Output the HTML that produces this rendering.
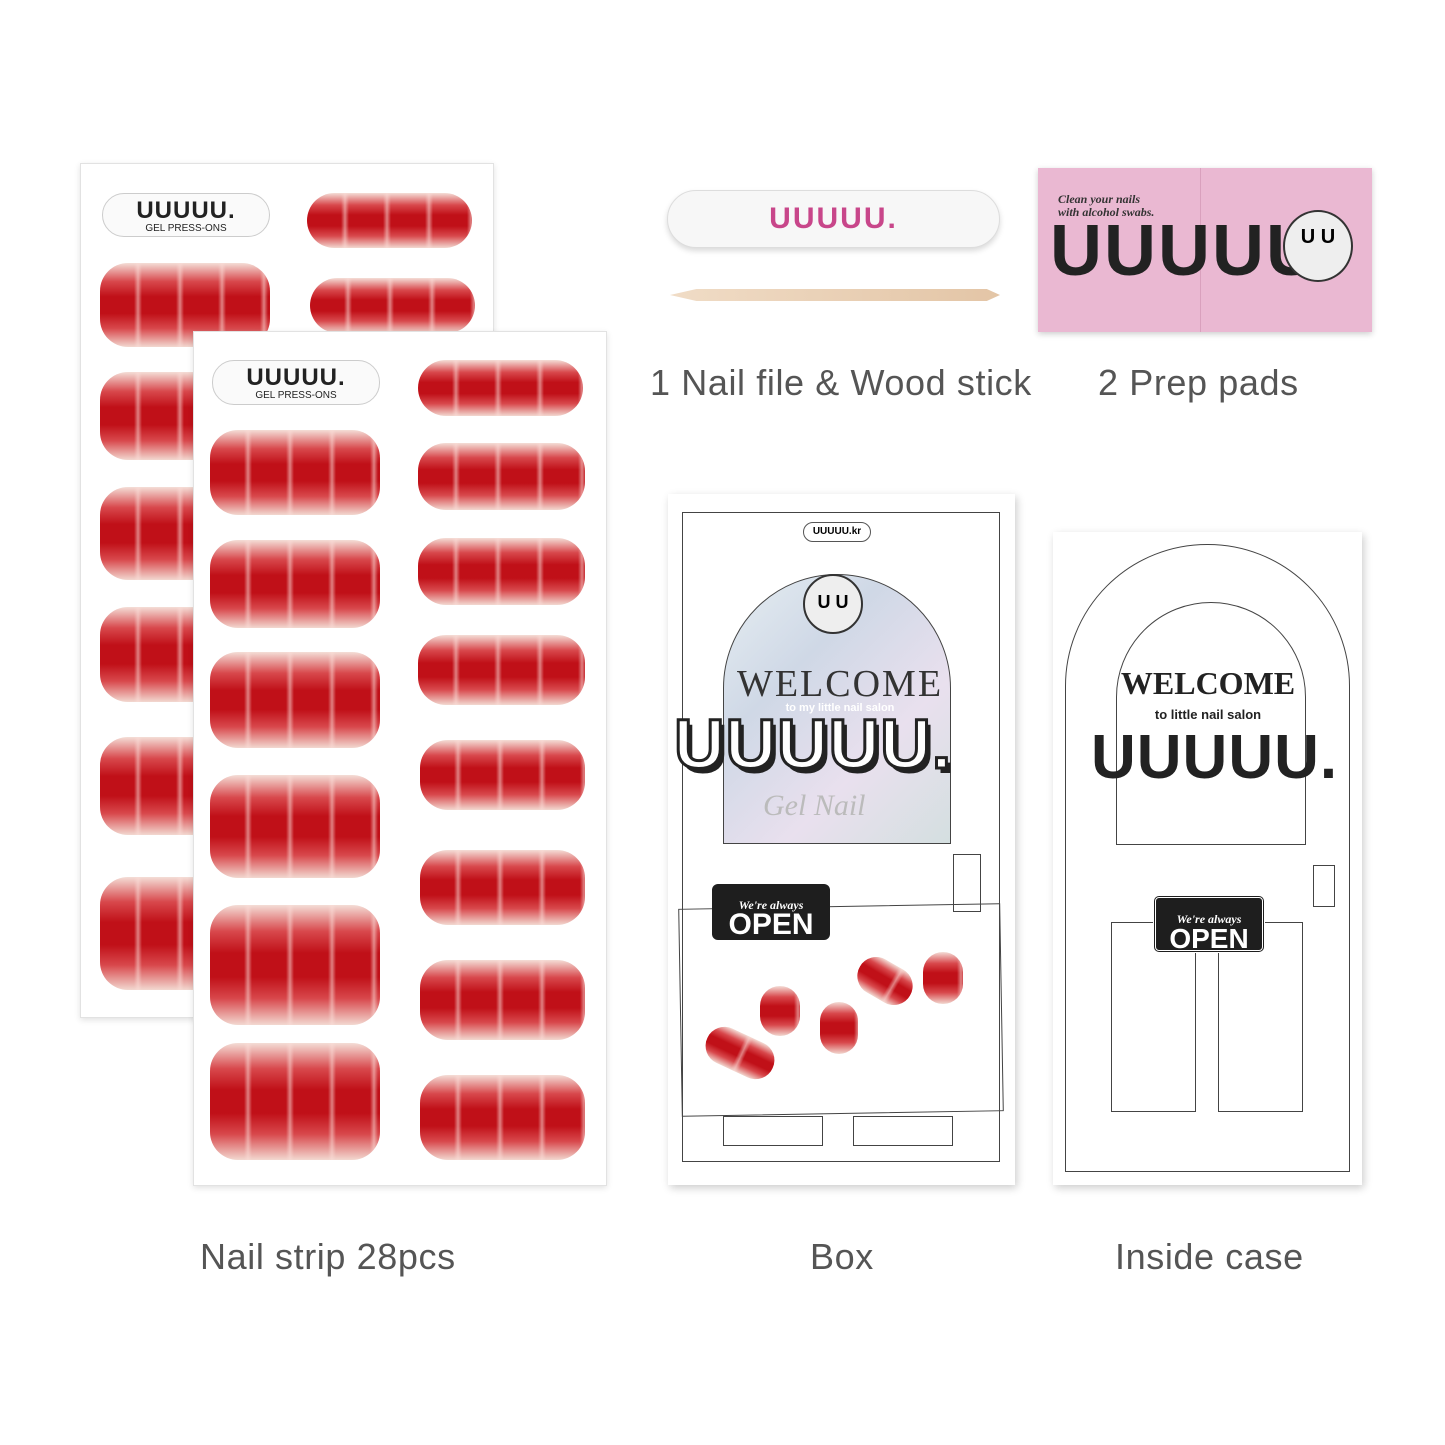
<!DOCTYPE html>
<html><head><meta charset="utf-8">
<style>
body{margin:0;width:1445px;height:1445px;background:#fff;position:relative;overflow:hidden;font-family:"Liberation Sans",sans-serif}
div{box-sizing:border-box}
.a{position:absolute}
.sheet{position:absolute;background:#fff;border:1px solid #e2e2e2;box-shadow:0 2px 6px rgba(0,0,0,.12)}
.n{position:absolute;border-radius:28px;
background:
repeating-linear-gradient(90deg,rgba(255,235,230,0) 0,rgba(255,235,230,0) 34px,rgba(250,220,215,.55) 38px,rgba(255,235,230,0) 42px),
linear-gradient(180deg,#f4ddd6 0%,#d8484c 22%,#c01018 40%,#c01018 60%,#d8484c 78%,#f2d8d0 100%);}
.logo{position:absolute;border:1px solid #ccc;border-radius:22px;background:#fafafa;text-align:center;font-weight:900;font-size:24px;letter-spacing:1px;color:#222;line-height:26px;padding-top:4px}
.logo small{display:block;font-size:10px;font-weight:400;line-height:10px;letter-spacing:0}
.lab{position:absolute;font-size:36px;letter-spacing:0.6px;color:#555;white-space:nowrap}
.ln{position:absolute;border:1.5px solid #444}
</style></head><body>

<div class="sheet" style="left:80px;top:163px;width:414px;height:855px"></div>
<div class="logo" style="left:102px;top:193px;width:168px;height:44px">UUUUU.<small>GEL PRESS-ONS</small></div>
<div class="n" style="left:307px;top:193px;width:165px;height:55px"></div>
<div class="n" style="left:310px;top:278px;width:165px;height:55px"></div>
<div class="n" style="left:100px;top:263px;width:170px;height:84px"></div>
<div class="n" style="left:100px;top:372px;width:170px;height:88px"></div>
<div class="n" style="left:100px;top:487px;width:170px;height:93px"></div>
<div class="n" style="left:100px;top:607px;width:170px;height:95px"></div>
<div class="n" style="left:100px;top:737px;width:170px;height:98px"></div>
<div class="n" style="left:100px;top:877px;width:170px;height:113px"></div>

<div class="sheet" style="left:193px;top:331px;width:414px;height:855px"></div>
<div class="logo" style="left:212px;top:360px;width:168px;height:45px">UUUUU.<small>GEL PRESS-ONS</small></div>
<div class="n" style="left:418px;top:360px;width:165px;height:56px"></div>
<div class="n" style="left:418px;top:443px;width:167px;height:67px"></div>
<div class="n" style="left:418px;top:538px;width:167px;height:67px"></div>
<div class="n" style="left:418px;top:635px;width:167px;height:70px"></div>
<div class="n" style="left:420px;top:740px;width:165px;height:70px"></div>
<div class="n" style="left:420px;top:850px;width:165px;height:75px"></div>
<div class="n" style="left:420px;top:960px;width:165px;height:80px"></div>
<div class="n" style="left:420px;top:1075px;width:165px;height:85px"></div>
<div class="n" style="left:210px;top:430px;width:170px;height:85px"></div>
<div class="n" style="left:210px;top:540px;width:170px;height:88px"></div>
<div class="n" style="left:210px;top:652px;width:170px;height:96px"></div>
<div class="n" style="left:210px;top:775px;width:170px;height:103px"></div>
<div class="n" style="left:210px;top:905px;width:170px;height:120px"></div>
<div class="n" style="left:210px;top:1043px;width:170px;height:117px"></div>

<div class="a" style="left:667px;top:190px;width:333px;height:58px;border-radius:29px;background:#f7f7f7;border:1px solid #ddd;box-shadow:0 3px 6px rgba(0,0,0,.15);text-align:center;font-weight:900;font-size:30px;color:#c8468a;line-height:56px;letter-spacing:2px">UUUUU.</div>
<div class="a" style="left:670px;top:289px;width:330px;height:12px;border-radius:6px;background:linear-gradient(90deg,#f0dcc6,#e3c5a6);clip-path:polygon(0 50%,8% 0,96% 0,100% 50%,96% 100%,8% 100%)"></div>

<div class="a" style="left:1038px;top:168px;width:334px;height:164px;background:#eab8d2;box-shadow:0 2px 6px rgba(0,0,0,.2)">
 <div class="a" style="left:162px;top:0;width:1px;height:164px;background:#d9a0bd"></div>
 <div class="a" style="left:20px;top:25px;font-size:12px;font-weight:700;font-style:italic;color:#333;line-height:13px;font-family:'Liberation Serif',serif">Clean your nails<br>with alcohol swabs.</div>
 <div class="a" style="left:12px;top:42px;font-size:72px;font-weight:900;color:#222;letter-spacing:2px">UUUUU</div>
 <div class="a" style="left:245px;top:42px;width:70px;height:72px;border-radius:50%;background:#eee;border:2px solid #333;font-weight:900;font-size:20px;text-align:center;line-height:50px">U U</div>
</div>
<div class="lab" style="left:650px;top:362px">1 Nail file &amp; Wood stick</div>
<div class="lab" style="left:1098px;top:362px">2 Prep pads</div>

<div class="a" style="left:668px;top:494px;width:347px;height:691px;background:#fff;box-shadow:2px 3px 8px rgba(0,0,0,.2)">
 <div class="ln" style="left:14px;top:18px;width:318px;height:650px;border-width:1px"></div>
 <div class="a" style="left:135px;top:28px;width:68px;height:20px;border:1.5px solid #555;border-radius:10px;font-size:10px;text-align:center;line-height:17px;font-weight:700">UUUUU.kr</div>
 <div class="a" style="left:55px;top:80px;width:228px;height:270px;border-radius:114px 114px 0 0;background:linear-gradient(135deg,#e6eef2,#cfd8e6,#e9e0ee,#d4dfe0);border:1.5px solid #444"></div>
 <div class="a" style="left:135px;top:80px;width:60px;height:60px;border-radius:50%;background:#eee;border:2px solid #333;font-weight:900;text-align:center;line-height:52px;font-size:18px">U U</div>
 <div class="a" style="left:62px;top:168px;width:220px;text-align:center;font-family:'Liberation Serif',serif;font-size:38px;color:#333;letter-spacing:2px">WELCOME</div>
 <div class="a" style="left:62px;top:208px;width:220px;text-align:center;font-size:11px;color:#fff;font-weight:700">to my little nail salon</div>
 <div class="a" style="left:6px;top:210px;font-size:70px;font-weight:900;color:#fff;letter-spacing:1px;-webkit-text-stroke:3px #222;text-shadow:4px 5px 0 #222">UUUUU.</div>
 <div class="a" style="left:95px;top:295px;font-family:'Liberation Serif',serif;font-style:italic;font-size:30px;color:#bbb">Gel Nail</div>
 <div class="ln" style="left:285px;top:360px;width:28px;height:58px;border-width:1px"></div>
 <div class="ln" style="left:12px;top:412px;width:322px;height:208px;transform:rotate(-1deg);border-width:1.5px"></div>
 <div class="a" style="left:44px;top:390px;width:118px;height:56px;background:#1e1e1e;border-radius:6px;color:#fff;text-align:center;font-weight:900;font-size:30px;line-height:20px;padding-top:6px"><span style="font-size:12px;font-style:italic;font-family:'Liberation Serif',serif">We're always</span><br>OPEN</div>
 <div class="n" style="left:36px;top:540px;width:72px;height:38px;transform:rotate(25deg);border-radius:20px"></div>
 <div class="n" style="left:92px;top:492px;width:40px;height:50px;border-radius:20px"></div>
 <div class="n" style="left:152px;top:508px;width:38px;height:52px;border-radius:19px"></div>
 <div class="n" style="left:188px;top:468px;width:58px;height:38px;transform:rotate(30deg);border-radius:19px"></div>
 <div class="n" style="left:255px;top:458px;width:40px;height:52px;border-radius:20px"></div>
 <div class="ln" style="left:55px;top:622px;width:100px;height:30px;border-width:1px"></div>
 <div class="ln" style="left:185px;top:622px;width:100px;height:30px;border-width:1px"></div>
</div>

<div class="a" style="left:1053px;top:532px;width:309px;height:653px;background:#fff;box-shadow:2px 3px 8px rgba(0,0,0,.2)">
 <div class="ln" style="left:12px;top:12px;width:285px;height:628px;border-radius:142px 142px 0 0;border-width:1.5px"></div>
 <div class="ln" style="left:63px;top:70px;width:190px;height:243px;border-radius:95px 95px 0 0;border-width:1.5px"></div>
 <div class="a" style="left:50px;top:133px;width:210px;text-align:center;font-family:'Liberation Serif',serif;font-weight:900;font-size:32px;color:#222">WELCOME</div>
 <div class="a" style="left:50px;top:175px;width:210px;text-align:center;font-size:13px;font-weight:700;color:#222">to little nail salon</div>
 <div class="a" style="left:38px;top:190px;font-size:62px;font-weight:900;color:#222;letter-spacing:1px">UUUUU.</div>
 <div class="ln" style="left:260px;top:333px;width:22px;height:42px;border-width:1.5px"></div>
 <div class="ln" style="left:58px;top:390px;width:85px;height:190px;border-width:1.5px"></div>
 <div class="ln" style="left:165px;top:390px;width:85px;height:190px;border-width:1.5px"></div>
 <div class="a" style="left:100px;top:363px;width:112px;height:58px;background:#1e1e1e;border-radius:6px;border:3px double #fff;color:#fff;text-align:center;font-weight:900;font-size:28px;line-height:20px;padding-top:6px"><span style="font-size:12px;font-style:italic;font-family:'Liberation Serif',serif">We're always</span><br>OPEN</div>
</div>

<div class="lab" style="left:200px;top:1236px">Nail strip 28pcs</div>
<div class="lab" style="left:810px;top:1236px">Box</div>
<div class="lab" style="left:1115px;top:1236px">Inside case</div>
</body></html>
